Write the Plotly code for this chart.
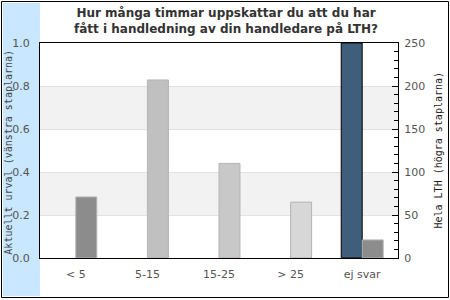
import plotly.graph_objects as go

# ---- data ----
categories = ["< 5", "5-15", "15-25", "> 25", "ej svar"]
urval_values = [None, None, None, None, 1.0]          # left axis (Aktuellt urval)
hela_lth_values = [71, 207, 110, 65, 21]              # right axis (Hela LTH)
left_ticks = [0.0, 0.2, 0.4, 0.6, 0.8, 1.0]
right_ticks = [0, 50, 100, 150, 200, 250]

# ---- styles ----
urval_color = "#3e5e7c"
lth_colors = ["#8c8c8c", "#c0c0c0", "#c8c8c8", "#d7d7d7", "#8c8c8c"]
band_color = "#f2f2f2"
grid_color = "#e2e2e2"
side_blue = "#c9e7ff"
tick_color = "#555555"

W, H = 450, 300
L, R, T, B = 40, 52, 43, 42
pw, ph = W - L - R, H - T - B


def px_x(x):
    return (x - L) / pw


def px_y(y):
    return (H - B - y) / ph


bw = 0.293

fig = go.Figure()
fig.add_trace(go.Bar(
    x=categories, y=urval_values, yaxis="y",
    width=bw, offset=-bw,
    marker=dict(color=urval_color, line=dict(color="#000000", width=1)),
    showlegend=False,
))
fig.add_trace(go.Bar(
    x=categories, y=hela_lth_values, yaxis="y2",
    width=bw, offset=0,
    marker=dict(color=lth_colors, line=dict(color="#b4b4b4", width=1)),
    showlegend=False,
))

shapes = [
    # left light-blue band
    dict(type="rect", xref="paper", yref="paper",
         x0=px_x(3), x1=px_x(40), y0=px_y(296), y1=px_y(3),
         fillcolor=side_blue, line=dict(width=0), layer="below"),
    # outer frame
    dict(type="rect", xref="paper", yref="paper",
         x0=px_x(1.5), x1=px_x(448.5), y0=px_y(297.5), y1=px_y(1.5),
         line=dict(color="#000000", width=1), fillcolor="rgba(0,0,0,0)", layer="above"),
]
for lo, hi in [(0.2, 0.4), (0.6, 0.8)]:
    shapes.append(dict(type="rect", xref="x", yref="y", x0=-0.5, x1=4.5, y0=lo, y1=hi,
                       fillcolor=band_color, line=dict(width=0), layer="below"))

fig.update_layout(
    width=W, height=H,
    margin=dict(l=L, r=R, t=T, b=B, pad=0),
    paper_bgcolor="white", plot_bgcolor="white",
    barmode="group",
    font=dict(family="DejaVu Sans", size=11, color=tick_color),
    xaxis=dict(
        range=[-0.5, 4.5], showline=True, linecolor="#000000", linewidth=1, mirror=True,
        ticks="", showgrid=False, tickfont=dict(size=11, color=tick_color),
        ticklabelstandoff=6,
    ),
    yaxis=dict(
        range=[0, 1], tickvals=left_ticks, tickformat=".1f",
        showline=True, linecolor="#000000", linewidth=1, mirror=True,
        ticks="", showgrid=True, gridcolor=grid_color, gridwidth=1,
        zeroline=False, tickfont=dict(size=11, color=tick_color),
        ticklabelstandoff=7,
    ),
    yaxis2=dict(
        range=[0, 250], tickvals=right_ticks, overlaying="y", side="right",
        showline=True, linecolor="#000000", linewidth=1,
        ticks="inside", ticklen=6, tickcolor="#000000",
        minor=dict(dtick=10, ticks="inside", ticklen=4, tickcolor="#000000", showgrid=False),
        showgrid=False, zeroline=False, tickfont=dict(size=11, color=tick_color),
        ticklabelstandoff=3,
    ),
    shapes=shapes,
    annotations=[
        dict(text="<b>Hur många timmar uppskattar du att du har<br>fått i handledning av din handledare på LTH?</b>",
             xref="paper", yref="paper", x=px_x(225.5), y=px_y(4),
             xanchor="center", yanchor="top", showarrow=False, align="center",
             font=dict(family="DejaVu Sans", size=12, color="#333333")),
        dict(text="Aktuellt urval (vänstra staplarna)", xref="paper", yref="paper",
             x=px_x(9), y=0.49, xanchor="center", yanchor="middle", textangle=-90,
             showarrow=False, font=dict(family="DejaVu Sans Mono", size=10, color="#444444")),
        dict(text="Hela LTH (högra staplarna)", xref="paper", yref="paper",
             x=px_x(438), y=0.5, xanchor="center", yanchor="middle", textangle=-90,
             showarrow=False, font=dict(family="DejaVu Sans Mono", size=10, color="#222222")),
    ],
)

fig.write_html("out.html")
